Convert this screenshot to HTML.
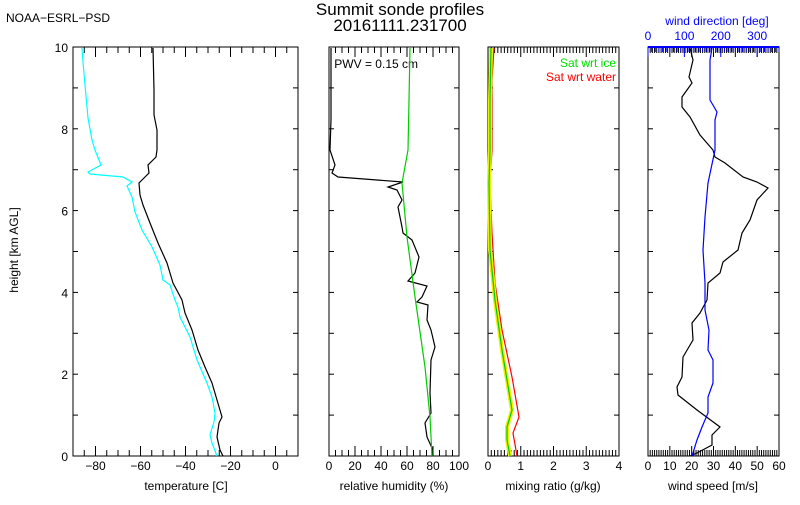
<!DOCTYPE html>
<html><head><meta charset="utf-8"><style>
body{margin:0;background:#fff;width:800px;height:500px;overflow:hidden}
svg text{font-family:"Liberation Sans",sans-serif;font-size:12px}
</style></head><body>
<svg id="s" width="800" height="500" xmlns="http://www.w3.org/2000/svg">
<text x="6" y="22" font-size="12">NOAA−ESRL−PSD</text>
<text x="400" y="15" text-anchor="middle" style="font-size:17px">Summit sonde profiles</text>
<text x="400" y="31" text-anchor="middle" style="font-size:17px">20161111.231700</text>
<text x="18" y="250" text-anchor="middle" transform="rotate(-90 18 250)" font-size="11">height [km AGL]</text>
<text x="717" y="25" text-anchor="middle" fill="#00f">wind direction [deg]</text>
<text x="418" y="68" text-anchor="end">PWV = 0.15 cm</text>
<text x="616" y="67" text-anchor="end" fill="#0d0">Sat wrt ice</text>
<text x="616" y="81" text-anchor="end" fill="#f00">Sat wrt water</text>
<text x="186" y="490" text-anchor="middle">temperature [C]</text>
<text x="394" y="490" text-anchor="middle">relative humidity (%)</text>
<text x="553" y="490" text-anchor="middle">mixing ratio (g/kg)</text>
<text x="713" y="490" text-anchor="middle">wind speed [m/s]</text>
<g id="g" fill="none" stroke-width="1"></g>
</svg>
<script>
var g=document.getElementById('g'),s=document.getElementById('s');
var T=47,B=456;
function el(n,a,t){var e=document.createElementNS('http://www.w3.org/2000/svg',n);for(var k in a)e.setAttribute(k,a[k]);if(t!=null)e.textContent=t;(n=='text'?s:g).appendChild(e);return e;}
function pl(p,c,w){el('polyline',{points:p,stroke:c,'stroke-width':w||1.2});}
function panel(x0,x1,v0,v1,minor,major,labels,ylab){
 el('rect',{x:x0,y:T,width:x1-x0,height:B-T,stroke:'#000'});
 for(var v=v0;v<=v1+1e-9;v+=minor){var x=x0+(v-v0)/(v1-v0)*(x1-x0);var big=Math.abs(v/major-Math.round(v/major))<1e-6;var L=big?10:6;
  el('line',{x1:x,y1:B,x2:x,y2:B-L,stroke:'#000'});el('line',{x1:x,y1:T,x2:x,y2:T+L,stroke:'#000'});}
 labels.forEach(function(v){var x=x0+(v-v0)/(v1-v0)*(x1-x0);el('text',{x:x,y:470,'text-anchor':'middle'},v<0?'−'+(-v):v);});
 for(var k=0;k<=10;k++){var y=B-k*(B-T)/10;el('line',{x1:x0,y1:y,x2:x0+5,y2:y,stroke:'#000'});el('line',{x1:x1,y1:y,x2:x1-5,y2:y,stroke:'#000'});
  if(ylab&&k%2==0)el('text',{x:x0-5,y:y+5,'text-anchor':'end'},k);}
}
panel(73,298,-90,10,5,20,[-80,-60,-40,-20,0],true);
panel(329,459,0,100,5,20,[0,20,40,60,80,100],false);
panel(488,619,0,4,0.1,1,[0,1,2,3,4],false);
panel(648,779,0,60,1,10,[0,10,20,30,40,50,60],false);
for(var d=0;d<=360;d+=10){var x=648+d*131/360;el('line',{x1:x,y1:T,x2:x,y2:T+(d%100==0?10:5),stroke:'#00f'});}
el('line',{x1:648,y1:T,x2:779,y2:T,stroke:'#00f','stroke-width':2});
[0,100,200,300].forEach(function(d){el('text',{x:648+d*131/360,y:40,'text-anchor':'middle',fill:'#00f'},d);});
pl("82,48 83,62 85,85 88,118 92,140 95,150 97,155 101,165 88,172 90,174 123,177 132,182 127,186 132,197 135,212 142,230 152,247 160,265 163,280 170,285 175,300 178,307 180,317 190,337 197,360 207,383 212,397 215,413 214,422 210,435 212,443 217,456","#0ff");
pl("153,48 154,90 154,115 157,130 157,150 156,157 148,165 149,173 144,178 139,183 140,195 143,205 150,223 158,243 167,263 173,283 182,300 185,313 192,330 198,350 205,367 212,383 217,400 222,417 219,423 217,437 220,450 223,456","#000");
pl("331,48 331,120 330,150 335,165 332,173 338,177 403,182 388,187 397,190 402,200 398,207 402,227 403,233 412,240 419,257 415,273 408,281 427,286 422,297 417,302 428,305 427,320 431,330 435,347 431,360 430,393 431,413 425,423 427,437 432,448 432,456","#000");
pl("410,48 409,100 408,150 402,183 407,237 415,297 425,367 430,417 432,456","#0c0");
pl("494,48 492,80 492,150 490,183 492,233 495,283 502,330 512,377 519,417 513,433 517,456","#f00");
pl("491,48 490,100 490,150 489,183 490,250 495,300 502,350 512,410 507,427 507,440 510,456","#ee0",4);
pl("491,48 490,100 490,150 489,183 490,250 495,300 502,350 512,410 507,427 507,440 510,456","#0c0");
pl("690,48 693,60 689,77 692,83 682,97 682,107 690,117 700,135 713,150 715,157 725,163 743,177 757,182 768,188 757,200 750,220 742,233 738,250 723,262 720,273 708,283 707,300 700,313 692,323 693,340 683,357 682,377 677,387 678,395 697,410 720,427 712,435 712,445 697,453 690,456","#000");
pl("712,48 710,60 710,100 717,112 715,120 715,150 708,183 705,217 703,250 705,283 705,310 709,330 708,350 713,360 713,383 708,397 708,413 702,427 697,440 692,456","#00f");
</script>
</body></html>
